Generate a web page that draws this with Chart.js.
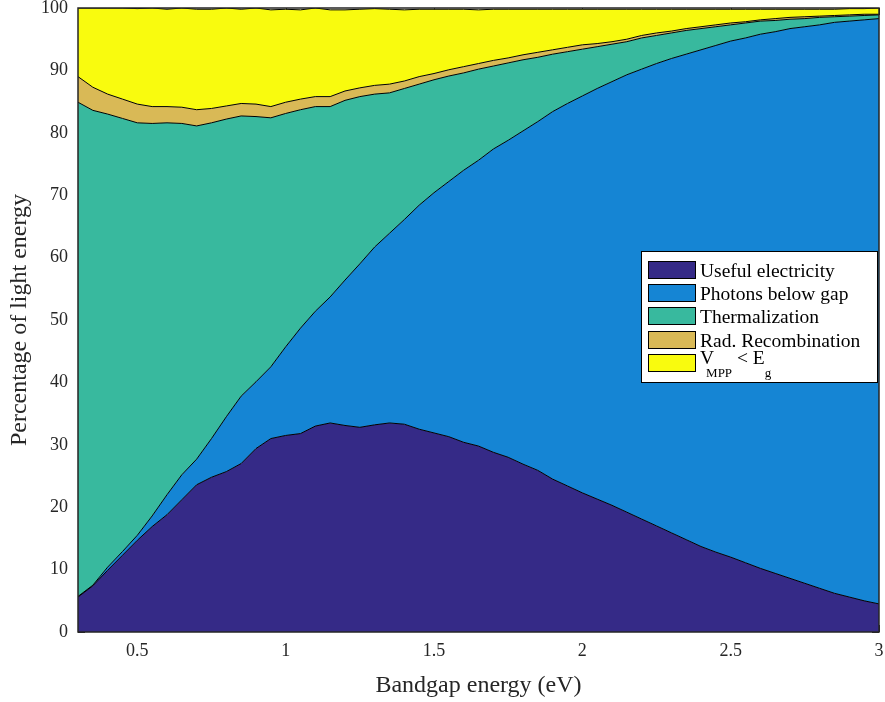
<!DOCTYPE html>
<html>
<head>
<meta charset="utf-8">
<script src="https://cdn.jsdelivr.net/npm/chart.js@4.4.1/dist/chart.umd.min.js"></script>
<style>
  html, body { margin: 0; padding: 0; background: #fff; }
  #wrap { width: 885px; height: 702px; }
</style>
</head>
<body>
<div id="wrap"><canvas id="chart" width="885" height="702"></canvas></div>
<script>
/* Energy loss breakdown vs bandgap, stacked area (percent of light energy) */
const BANDGAP = [0.30,0.35,0.40,0.45,0.50,0.55,0.60,0.65,0.70,0.75,0.80,0.85,0.90,0.95,
  1.00,1.05,1.10,1.15,1.20,1.25,1.30,1.35,1.40,1.45,
  1.50,1.55,1.60,1.65,1.70,1.75,1.80,1.85,1.90,1.95,
  2.00,2.05,2.10,2.15,2.20,2.25,2.30,2.35,2.40,2.45,
  2.50,2.55,2.60,2.65,2.70,2.75,2.80,2.85,2.90,2.95,3.00];

const USEFUL = [5.6,7.4,9.9,12.3,14.7,16.9,18.8,21.2,23.6,24.8,25.7,27.0,29.4,31.0,
  31.5,31.8,33.0,33.5,33.1,32.8,33.2,33.5,33.3,32.5,
  31.9,31.3,30.4,29.8,28.8,28.0,26.9,25.9,24.5,23.4,
  22.3,21.3,20.3,19.2,18.1,17.0,15.9,14.8,13.7,12.8,
  12.0,11.1,10.2,9.4,8.6,7.8,7.0,6.2,5.6,5.0,4.5];

const PHOTONS_BELOW = [0.1,0.1,0.5,0.6,0.8,1.7,3.2,4.0,4.1,6.2,8.8,10.8,10.7,11.5,
  14.2,16.9,18.4,20.2,23.3,26.2,28.5,30.4,32.8,35.9,
  38.5,40.9,43.6,45.8,48.6,50.8,53.4,55.9,58.9,61.3,
  63.6,65.8,67.9,70.1,72.1,74.1,76.0,77.8,79.6,81.2,
  82.7,84.1,85.6,86.8,88.1,89.2,90.3,91.5,92.3,93.1,93.8];

const THERMAL = [79.2,76.1,72.6,69.4,66.1,62.9,59.6,56.3,53.4,50.6,47.7,44.9,42.5,39.9,
  37.4,35.0,32.8,30.5,28.8,26.8,24.5,22.5,21.0,19.4,
  18.1,16.9,15.6,14.6,13.3,12.4,11.4,10.3,9.2,8.3,
  7.5,6.7,6.0,5.3,5.0,4.5,4.1,3.8,3.4,3.0,
  2.6,2.4,2.1,1.8,1.5,1.3,1.2,0.9,0.8,0.7,0.6];

const RAD_RECOMB = [4.1,3.7,3.2,3.1,3.0,2.7,2.6,2.6,2.6,2.3,2.1,2.0,2.0,1.8,
  1.8,1.7,1.6,1.6,1.5,1.4,1.4,1.4,1.2,1.2,
  1.0,1.0,1.0,0.9,0.9,0.8,0.8,0.8,0.7,0.7,
  0.7,0.5,0.4,0.4,0.4,0.4,0.3,0.3,0.3,0.3,
  0.3,0.2,0.2,0.3,0.3,0.3,0.2,0.2,0.2,0.2,0.1];

const VMPP_LOSS = [11.0,12.7,13.8,14.6,15.3,15.8,15.6,15.9,16.1,15.9,15.7,15.1,15.4,15.5,
  14.9,14.3,14.2,13.9,13.0,12.6,12.3,12.0,11.4,10.8,
  10.3,9.7,9.2,8.6,8.2,7.8,7.3,6.9,6.5,6.1,
  5.7,5.5,5.2,4.8,4.2,3.8,3.5,3.1,2.8,2.5,
  2.2,2.0,1.7,1.5,1.3,1.2,1.1,1.0,1.0,0.9,1.0];

const SERIES_LABELS = ["Useful electricity", "Photons below gap", "Thermalization",
  "Rad. Recombination", "V_{MPP} < E_g"];
const X_TICKS = [0.5, 1, 1.5, 2, 2.5, 3];
const X_TICK_LABELS = ["0.5", "1", "1.5", "2", "2.5", "3"];
const Y_TICKS = [0, 10, 20, 30, 40, 50, 60, 70, 80, 90, 100];
const Y_TICK_LABELS = ["0", "10", "20", "30", "40", "50", "60", "70", "80", "90", "100"];

const COLORS = ["#352a87", "#1585d4", "#38b99e", "#d9b956", "#f9fb0e"];
const FONT = "'Liberation Serif', 'Times New Roman', serif";
const INK = "#262626";

const toPoints = arr => BANDGAP.map((x, i) => ({ x: x, y: arr[i] }));
const SERIES = [USEFUL, PHOTONS_BELOW, THERMAL, RAD_RECOMB, VMPP_LOSS];

/* ── text with TeX-like subscripts ───────────────────────── */
function parseRich(text) {
  const parts = [];
  let buf = "", i = 0;
  while (i < text.length) {
    if (text[i] === "_") {
      if (buf) { parts.push({ t: buf, sub: false }); buf = ""; }
      if (text[i + 1] === "{") {
        const j = text.indexOf("}", i);
        parts.push({ t: text.slice(i + 2, j), sub: true });
        i = j + 1;
      } else {
        parts.push({ t: text[i + 1], sub: true });
        i += 2;
      }
    } else { buf += text[i]; i++; }
  }
  if (buf) parts.push({ t: buf, sub: false });
  return parts;
}

/* ── axes frame, inward ticks, legend ────────────────────── */
const matlabAxes = {
  id: "matlabAxes",
  beforeDatasetsDraw(chart) {
    const { ctx, chartArea: a, scales } = chart;
    const tl = 7;
    ctx.save();
    ctx.strokeStyle = INK;
    ctx.lineWidth = 1;
    ctx.beginPath();
    X_TICKS.forEach(v => {
      const px = Math.round(scales.x.getPixelForValue(v)) + 0.5;
      ctx.moveTo(px, a.bottom); ctx.lineTo(px, a.bottom - tl);
      ctx.moveTo(px, a.top); ctx.lineTo(px, a.top + tl);
    });
    Y_TICKS.forEach(v => {
      const py = Math.round(scales.y.getPixelForValue(v)) + 0.5;
      ctx.moveTo(a.left, py); ctx.lineTo(a.left + tl, py);
      ctx.moveTo(a.right, py); ctx.lineTo(a.right - tl, py);
    });
    ctx.stroke();
    ctx.restore();
  },
  afterDatasetsDraw(chart) {
    const { ctx, chartArea: a } = chart;
    ctx.save();
    ctx.strokeStyle = INK;
    ctx.lineWidth = 1.5;
    ctx.strokeRect(a.left, a.top, a.right - a.left, a.bottom - a.top);

    /* legend box */
    const lx = 641, ly = 251, lw = 236, lh = 131;
    ctx.fillStyle = "#fff";
    ctx.fillRect(lx, ly, lw, lh);
    ctx.lineWidth = 1;
    ctx.strokeStyle = "#000";
    ctx.strokeRect(lx + 0.5, ly + 0.5, lw, lh);

    const rowY = [270, 293, 316, 340, 363];
    chart.data.datasets.forEach((ds, i) => {
      const cy = rowY[i];
      ctx.fillStyle = ds.backgroundColor;
      ctx.fillRect(648, cy - 8.5, 47, 17);
      ctx.strokeStyle = "#000";
      ctx.strokeRect(648.5, cy - 8.5, 47, 17);

      const parts = parseRich(ds.label);
      const hasSub = parts.some(p => p.sub);
      let x = 700;
      const base = hasSub ? cy + 0.5 : cy + 6.5;
      ctx.fillStyle = "#000";
      ctx.textBaseline = "alphabetic";
      ctx.textAlign = "left";
      let prev = "";
      parts.forEach(p => {
        ctx.font = (p.sub ? "13px " : "19.5px ") + FONT;
        if (p.sub && prev.endsWith("V")) x -= 8;   // TeX tucks the subscript under V
        ctx.fillText(p.t, x, p.sub ? base + 13 : base);
        x += ctx.measureText(p.t).width;
        prev = p.t;
      });
    });
    ctx.restore();
  }
};

const axisFont = { family: FONT, size: 18 };
const titleFont = { family: FONT, size: 24 };

new Chart(document.getElementById("chart"), {
  type: "line",
  data: {
    datasets: SERIES.map((arr, i) => ({
      label: SERIES_LABELS[i],
      data: toPoints(arr),
      backgroundColor: COLORS[i],
      borderColor: "#000",
      borderWidth: 1,
      pointRadius: 0,
      tension: 0,
      fill: i === 0 ? "origin" : "-1"
    }))
  },
  options: {
    responsive: false,
    animation: false,
    devicePixelRatio: 1,
    layout: { padding: { top: 8, right: 6, left: 0, bottom: 0 } },
    plugins: { legend: { display: false }, tooltip: { enabled: false } },
    scales: {
      x: {
        type: "linear",
        min: 0.3,
        max: 3,
        grid: { display: false, drawTicks: false },
        border: { display: false },
        afterBuildTicks: s => { s.ticks = X_TICKS.map(v => ({ value: v })); },
        afterFit: s => { s.height = 70; s.paddingLeft = 0; s.paddingRight = 0; },
        ticks: {
          color: INK, font: axisFont, padding: 8, maxRotation: 0, autoSkip: false,
          callback: (v, i) => X_TICK_LABELS[i]
        },
        title: {
          display: true, text: "Bandgap energy (eV)", color: INK, font: titleFont,
          padding: { top: 0, bottom: 2 }
        }
      },
      y: {
        stacked: true,
        min: 0,
        max: 100,
        grid: { display: false, drawTicks: false },
        border: { display: false },
        afterBuildTicks: s => { s.ticks = Y_TICKS.map(v => ({ value: v })); },
        afterFit: s => { s.width = 78; s.paddingTop = 0; s.paddingBottom = 0; },
        ticks: {
          color: INK, font: axisFont, padding: 10, autoSkip: false,
          callback: (v, i) => Y_TICK_LABELS[i]
        },
        title: {
          display: true, text: "Percentage of light energy", color: INK, font: titleFont,
          padding: { top: 5, bottom: 0 }
        }
      }
    }
  },
  plugins: [matlabAxes]
});
</script>
</body>
</html>
